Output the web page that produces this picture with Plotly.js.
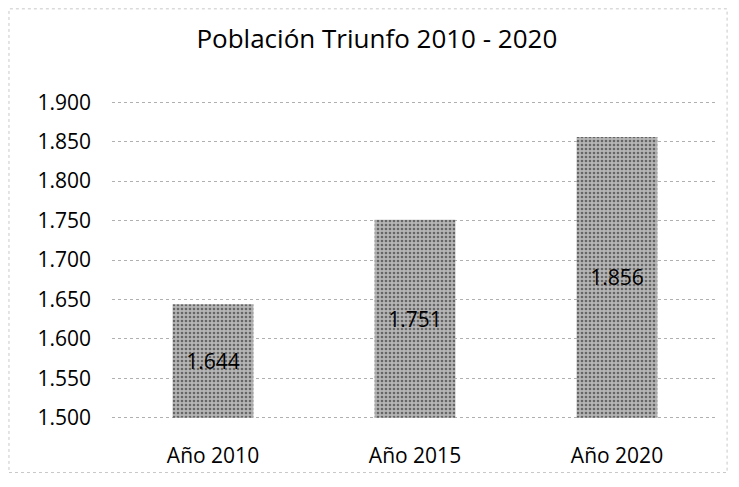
<!DOCTYPE html>
<html>
<head>
<meta charset="utf-8">
<script src="https://cdn.plot.ly/plotly-3.0.1.min.js"></script>
<style>
  html, body { margin: 0; padding: 0; background: #fff; }
  #myChart { width: 739px; height: 487px; }
</style>
</head>
<body>
<div id="myChart"></div>
<script>
// chart data
var years = ["Año 2010", "Año 2015", "Año 2020"];
var population = [1644, 1751, 1856];
var yTicks = [1500, 1550, 1600, 1650, 1700, 1750, 1800, 1850, 1900];
var axisBase = 1500; // the y axis starts here, bars are drawn from it

function plotData() {
  var fontName = "Open Sans, sans-serif";
  var data = [
    {
      type: "bar",
      x: years,
      base: axisBase,
      y: population.map((v) => v - axisBase), // height above the axis start
      text: population,
      texttemplate: "%{text:,}",
      textposition: "inside",
      insidetextanchor: "middle",
      textangle: 0,
      constraintext: "none",
      textfont: { family: fontName, size: 21, color: "#000" },
      marker: {
        color: "#a0a0a0",
        line: { width: 0 },
        pattern: { shape: ".", fgcolor: "#666666", bgcolor: "#b5b5b5", size: 4, solidity: 0.35 },
      },
      hoverinfo: "none",
    },
  ];
  var layout = {
    width: 739,
    height: 487,
    margin: { l: 112, r: 21, t: 99, b: 66 },
    separators: ",.",
    paper_bgcolor: "#ffffff",
    plot_bgcolor: "#ffffff",
    showlegend: false,
    bargap: 0.6,
    title: {
      text: "Población Triunfo 2010 - 2020",
      font: { family: fontName, size: 26, color: "#000" },
      x: 0.51,
      xanchor: "center",
      y: 0.92,
      yanchor: "middle",
    },
    xaxis: {
      type: "category",
      showgrid: false,
      showline: false,
      zeroline: false,
      ticks: "",
      ticklabelstandoff: 20,
      tickfont: { family: fontName, size: 21, color: "#000" },
    },
    yaxis: {
      range: [1496, 1904],
      tickvals: yTicks,
      tickformat: ",",
      showline: false,
      zeroline: false,
      ticks: "",
      ticklabelstandoff: 20,
      gridcolor: "#b0b0b0",
      griddash: "dot",
      gridwidth: 1,
      tickfont: { family: fontName, size: 21, color: "#000" },
    },
    shapes: [
      {
        type: "rect",
        xref: "paper",
        yref: "paper",
        x0: -0.17,
        x1: 1.015,
        y0: -0.16,
        y1: 1.28,
        line: { color: "#c8c8c8", width: 1, dash: "dot" },
      },
    ],
  };
  const config = { displayModeBar: false, staticPlot: true };
  Plotly.newPlot("myChart", data, layout, config);
}

plotData();
</script>
</body>
</html>
